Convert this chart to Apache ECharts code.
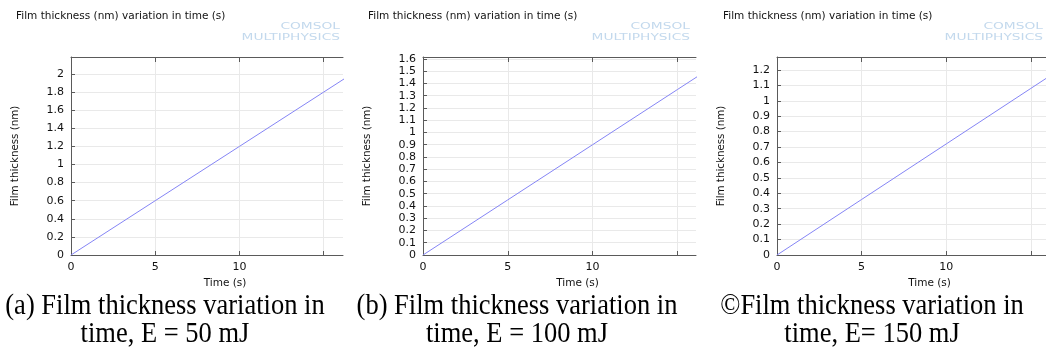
<!DOCTYPE html>
<html>
<head>
<meta charset="utf-8">
<title>Film thickness variation in time</title>
<script src="https://cdn.jsdelivr.net/npm/echarts@6/dist/echarts.min.js"></script>
<style>
  html, body { margin: 0; padding: 0; background: #fff; }
  #chart { width: 1046px; height: 358px; }
</style>
</head>
<body>
<div id="chart"></div>
<script>
// values
var timeS     = [0, 5, 10, 15, 17];
var thick50   = [0, 0.6, 1.2, 1.8, 2.04];
var thick100  = [0, 0.45, 0.9, 1.35, 1.53];
var thick150  = [0, 0.36, 0.72, 1.08, 1.224];

var timeTicks  = [0, 5, 10, 15];
var timeLabels = [0, 5, 10];
var ticks50    = [0, 0.2, 0.4, 0.6, 0.8, 1, 1.2, 1.4, 1.6, 1.8, 2];
var ticks100   = [0, 0.1, 0.2, 0.3, 0.4, 0.5, 0.6, 0.7, 0.8, 0.9, 1, 1.1, 1.2, 1.3, 1.4, 1.5, 1.6];
var ticks150   = [0, 0.1, 0.2, 0.3, 0.4, 0.5, 0.6, 0.7, 0.8, 0.9, 1, 1.1, 1.2];

var plotTitle = 'Film thickness (nm) variation in time (s)';
var captions = [
  '(a) Film thickness variation in\ntime, E = 50 mJ',
  '(b) Film thickness variation in\ntime, E = 100 mJ',
  '\u00A9Film thickness variation in\ntime, E= 150 mJ'
];

// layout of each panel (pixels) and axis extents
var panels = [
  { left: 71,  right: 343,  xMax: 16.15, yMax: 2.188, y: thick50,  yTicks: ticks50,  titleX: 16,  markX: 340,  capX: 165 },
  { left: 423, right: 696,  xMax: 16.1,  yMax: 1.616, y: thick100, yTicks: ticks100, titleX: 368, markX: 690,  capX: 517 },
  { left: 777, right: 1046, xMax: 15.9,  yMax: 1.284, y: thick150, yTicks: ticks150, titleX: 723, markX: 1043, capX: 872 }
];

var W = 1046, H = 358;
var axisColor = '#5a5a5a';
var gridColor = '#e9e9e9';
var font = 'DejaVu Sans';

var grid = [], xAxis = [], yAxis = [], series = [], graphic = [];

panels.forEach(function (p, i) {
  grid.push({ left: p.left, right: W - p.right, top: 57, bottom: H - 255 });

  // bottom x axis
  xAxis.push({
    type: 'value', gridIndex: i, min: 0, max: p.xMax,
    name: 'Time (s)', nameLocation: 'middle', nameGap: 21,
    nameTextStyle: { fontFamily: font, fontSize: 10.5, color: '#111', padding: [0, 0, 0, 36] },
    axisLine: { show: true, lineStyle: { color: axisColor } },
    axisTick: { show: true, inside: true, length: 4, customValues: timeTicks, lineStyle: { color: axisColor } },
    axisLabel: { customValues: timeLabels, fontFamily: font, fontSize: 11, color: '#111', margin: 7 },
    splitLine: { show: true, lineStyle: { color: gridColor } }
  });
  // top frame with ticks
  xAxis.push({
    type: 'value', gridIndex: i, position: 'top', min: 0, max: p.xMax,
    axisLine: { show: true, lineStyle: { color: axisColor } },
    axisTick: { show: true, inside: true, length: 5, customValues: timeTicks, lineStyle: { color: axisColor } },
    axisLabel: { show: false },
    splitLine: { show: false }
  });

  yAxis.push({
    type: 'value', gridIndex: i, min: 0, max: p.yMax,
    name: 'Film thickness (nm)', nameLocation: 'middle', nameGap: 51,
    nameTextStyle: { fontFamily: font, fontSize: 10.3, color: '#111' },
    axisLine: { show: true, lineStyle: { color: axisColor } },
    axisTick: { show: true, inside: true, length: 4, customValues: p.yTicks, lineStyle: { color: axisColor } },
    axisLabel: { customValues: p.yTicks, fontFamily: font, fontSize: 11, color: '#111', margin: 7 },
    splitLine: { show: true, lineStyle: { color: gridColor } }
  });

  series.push({
    type: 'line', xAxisIndex: i * 2, yAxisIndex: i,
    data: timeS.map(function (t, k) { return [t, p.y[k]]; }),
    showSymbol: false, clip: true, animation: false,
    lineStyle: { color: '#8585f5', width: 1 }
  });

  graphic.push({
    type: 'text', left: p.titleX, top: 11,
    style: { text: plotTitle, fontFamily: font, fontSize: 10.5, fill: '#111' }
  });
  graphic.push({
    type: 'text', x: p.markX, y: 27, scaleX: 1.45,
    style: { text: 'COMSOL', fontFamily: font, fontSize: 9.5, fill: '#c3d9ed', align: 'right', verticalAlign: 'middle' }
  });
  graphic.push({
    type: 'text', x: p.markX, y: 37.5, scaleX: 1.45,
    style: { text: 'MULTIPHYSICS', fontFamily: font, fontSize: 9.5, fill: '#c3d9ed', align: 'right', verticalAlign: 'middle' }
  });
  graphic.push({
    type: 'text', x: p.capX, y: 293, scaleY: 1.1,
    style: { text: captions[i], fontFamily: 'Liberation Serif', fontSize: 26.5, lineHeight: 25,
             fill: '#000', align: 'center', verticalAlign: 'top' }
  });
});

var myChart = echarts.init(document.getElementById('chart'), null, { renderer: 'canvas' });
myChart.setOption({
  animation: false,
  backgroundColor: '#fff',
  grid: grid,
  xAxis: xAxis,
  yAxis: yAxis,
  series: series,
  graphic: graphic
});
</script>
</body>
</html>
